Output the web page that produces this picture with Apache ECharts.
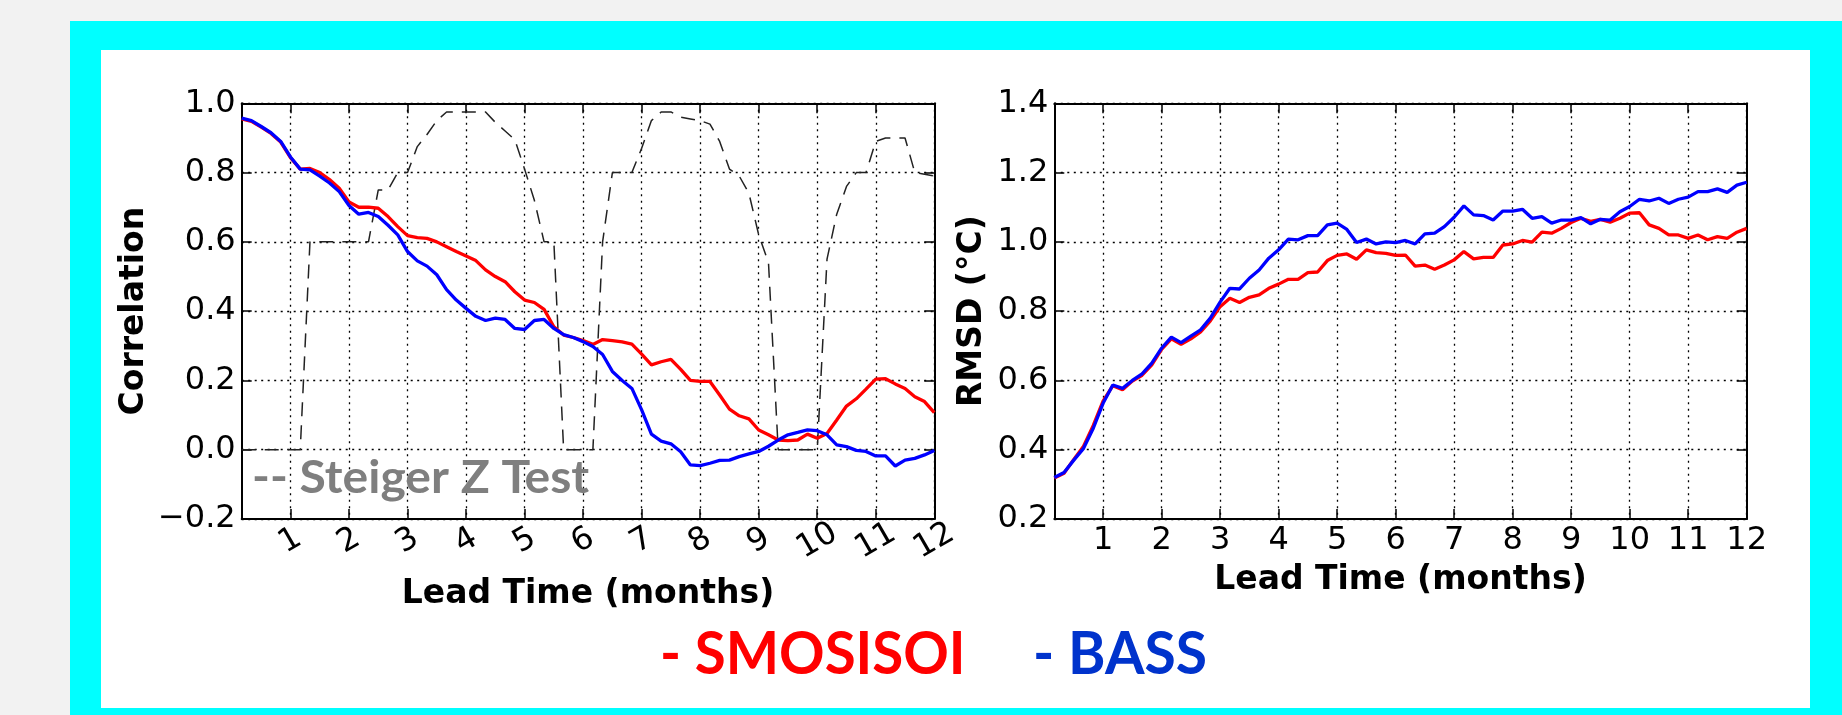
<!DOCTYPE html>
<html><head><meta charset="utf-8">
<script src="https://cdn.jsdelivr.net/npm/echarts@6/dist/echarts.min.js"></script>
<style>
html,body{margin:0;padding:0;background:#f2f2f2;width:1842px;height:715px;overflow:hidden;}
#cyan{position:absolute;left:70px;top:21px;width:1772px;height:694px;background:#00ffff;}
#white{position:absolute;left:101px;top:50px;width:1709px;height:658px;background:#ffffff;}
#chart{position:absolute;left:0;top:0;width:1842px;height:715px;}
</style></head><body>
<div id="cyan"></div><div id="white"></div><div id="chart"></div>
<script>
// ---- data ----
const leadTime = [0.1667,0.333,0.5,0.667,0.833,1,1.167,1.333,1.5,1.667,1.833,2,2.167,2.333,2.5,2.667,2.833,3,3.167,3.333,3.5,3.667,3.833,4,4.167,4.333,4.5,4.667,4.833,5,5.167,5.333,5.5,5.667,5.833,6,6.167,6.333,6.5,6.667,6.833,7,7.167,7.333,7.5,7.667,7.833,8,8.167,8.333,8.5,8.667,8.833,9,9.167,9.333,9.5,9.667,9.833,10,10.167,10.333,10.5,10.667,10.833,11,11.167,11.333,11.5,11.667,11.833,12];
const monthTicks = [1,2,3,4,5,6,7,8,9,10,11,12];
const corrTicks = [-0.2,0,0.2,0.4,0.6,0.8,1.0];
const rmsdTicks = [0.2,0.4,0.6,0.8,1.0,1.2,1.4];

const corrSMOSISOI = [0.955,0.948,0.931,0.913,0.888,0.843,0.81,0.812,0.8,0.78,
0.755,0.715,0.70,0.70,0.697,0.673,0.644,0.618,0.612,0.61,
0.60,0.586,0.572,0.559,0.546,0.519,0.50,0.485,0.456,0.432,
0.425,0.405,0.355,0.331,0.324,0.315,0.304,0.318,0.315,0.311,
0.305,0.276,0.245,0.254,0.261,0.232,0.20,0.197,0.197,0.158,
0.117,0.098,0.089,0.057,0.043,0.028,0.026,0.028,0.045,0.033,
0.047,0.086,0.126,0.147,0.175,0.204,0.205,0.19,0.177,0.153,0.139,0.107];

const corrBASS = [0.957,0.95,0.933,0.915,0.89,0.845,0.81,0.808,0.79,0.77,
0.745,0.705,0.68,0.685,0.673,0.648,0.62,0.572,0.545,0.53,
0.505,0.462,0.432,0.408,0.385,0.373,0.38,0.376,0.35,0.347,
0.373,0.376,0.35,0.332,0.324,0.312,0.298,0.275,0.226,0.2,
0.177,0.115,0.045,0.025,0.017,-0.006,-0.044,-0.046,-0.039,-0.031,
-0.03,-0.02,-0.012,-0.005,0.01,0.028,0.043,0.05,0.057,0.055,
0.043,0.014,0.009,-0.002,-0.005,-0.018,-0.018,-0.047,-0.03,-0.025,-0.015,-0.002];

const steigerZ = [0,0,0,0,0,0,0,0.6,0.6,0.6,
0.6,0.6,0.6,0.6,0.75,0.75,0.8,0.8,0.875,0.91,
0.95,0.975,0.975,0.975,0.975,0.975,0.945,0.92,0.895,0.81,
0.72,0.6,0.6,0,0,0,0,0.6,0.8,0.8,
0.8,0.87,0.95,0.975,0.975,0.96,0.955,0.95,0.94,0.89,
0.81,0.79,0.74,0.62,0.54,0,0,0,0,0,
0.55,0.68,0.76,0.8,0.8,0.89,0.9,0.9,0.9,0.8,0.795,0.79];

const rmsdSMOSISOI = [0.318,0.332,0.372,0.41,0.47,0.54,0.585,0.573,0.598,0.615,
0.645,0.69,0.72,0.704,0.72,0.74,0.772,0.813,0.837,0.825,
0.84,0.847,0.866,0.878,0.892,0.892,0.911,0.913,0.946,0.961,
0.965,0.95,0.977,0.969,0.967,0.961,0.962,0.93,0.933,0.921,
0.933,0.948,0.972,0.951,0.955,0.955,0.991,0.994,1.004,0.999,
1.028,1.025,1.039,1.056,1.068,1.059,1.065,1.057,1.068,1.083,
1.084,1.049,1.039,1.02,1.02,1.01,1.02,1.006,1.015,1.01,1.028,1.039];

const rmsdBASS = [0.32,0.334,0.37,0.404,0.462,0.534,0.587,0.577,0.6,0.619,
0.65,0.693,0.725,0.709,0.728,0.746,0.78,0.826,0.866,0.864,
0.895,0.919,0.953,0.977,1.008,1.006,1.018,1.018,1.049,1.054,
1.036,0.998,1.008,0.994,1.0,0.998,1.004,0.994,1.023,1.025,
1.044,1.071,1.104,1.078,1.076,1.063,1.089,1.089,1.094,1.068,
1.073,1.054,1.063,1.063,1.07,1.052,1.065,1.063,1.087,1.102,
1.123,1.118,1.126,1.111,1.123,1.129,1.145,1.145,1.153,1.143,1.164,1.172];

// ---- chart ----
const FONT = 'DejaVu Sans';
const pairs = (xs, ys) => xs.map((x, k) => [x, ys[k]]);
const fmt = v => (v < -1e-9 ? '\u2212' : '') + Math.abs(v).toFixed(1);
const frame = {onZero: false, lineStyle: {color: '#000', width: 2}};
const tickStyle = {color: '#000', width: 1.5};
const gridLine = {show: true, lineStyle: {color: '#000', width: 1.3, type: [2, 4.5]}};
const nameStyle = {fontFamily: FONT, fontWeight: 'bold', fontSize: 33, color: '#000', verticalAlign: 'middle'};

function bottomX(gi, rotate, gap) {
  return {type: 'value', gridIndex: gi, position: 'bottom', min: leadTime[0], max: 12,
    axisLine: frame,
    axisTick: {inside: true, length: 10, customValues: monthTicks, lineStyle: tickStyle},
    axisLabel: {customValues: monthTicks, rotate: rotate, align: 'center', verticalAlign: 'middle', margin: 22,
      color: '#000', fontFamily: FONT, fontSize: 32},
    splitLine: gridLine,
    name: 'Lead Time (months)', nameLocation: 'middle', nameGap: gap, nameTextStyle: nameStyle};
}
function topX(gi) {
  return {type: 'value', gridIndex: gi, position: 'top', min: leadTime[0], max: 12,
    axisLine: frame,
    axisTick: {inside: true, length: 10, customValues: monthTicks, lineStyle: tickStyle},
    axisLabel: {show: false}, splitLine: {show: false}};
}
function leftY(gi, ticks, name, gap) {
  return {type: 'value', gridIndex: gi, position: 'left', min: ticks[0], max: ticks[ticks.length - 1],
    axisLine: frame,
    axisTick: {inside: true, length: 10, customValues: ticks, lineStyle: tickStyle},
    axisLabel: {customValues: ticks, formatter: fmt, margin: 6, color: '#000', fontFamily: FONT, fontSize: 32},
    splitLine: gridLine,
    name: name, nameLocation: 'middle', nameRotate: 90, nameGap: gap, nameTextStyle: nameStyle};
}
function rightY(gi, ticks) {
  return {type: 'value', gridIndex: gi, position: 'right', min: ticks[0], max: ticks[ticks.length - 1],
    axisLine: frame,
    axisTick: {inside: true, length: 10, customValues: ticks, lineStyle: tickStyle},
    axisLabel: {show: false}, splitLine: {show: false}};
}
function line(xi, yi, ys, color, width, type, z) {
  return {type: 'line', xAxisIndex: xi, yAxisIndex: yi, data: pairs(leadTime, ys), showSymbol: false,
    silent: true, z: z, lineStyle: {color: color, width: width, type: type}};
}

const chart = echarts.init(document.getElementById('chart'), null, {renderer: 'canvas'});
chart.setOption({
  animation: false,
  backgroundColor: 'transparent',
  grid: [
    {left: 241.7, top: 103.3, width: 692.6, height: 415.7},
    {left: 1054.3, top: 103.3, width: 692.4, height: 415.7}
  ],
  xAxis: [bottomX(0, 30, 75), topX(0), bottomX(1, 0, 61), topX(1)],
  yAxis: [leftY(0, corrTicks, 'Correlation', 107), rightY(0, corrTicks),
          leftY(1, rmsdTicks, 'RMSD (\u00b0C)', 81.5), rightY(1, rmsdTicks)],
  series: [
    line(0, 0, steigerZ, '#222222', 1.5, [14, 9], 2),
    line(0, 0, corrSMOSISOI, '#ff0000', 3.3, 'solid', 3),
    line(0, 0, corrBASS, '#0000ff', 3.3, 'solid', 4),
    line(2, 2, rmsdSMOSISOI, '#ff0000', 3.3, 'solid', 3),
    line(2, 2, rmsdBASS, '#0000ff', 3.3, 'solid', 4)
  ],
  graphic: [
    {type: 'text', x: 252, y: 478.5, scaleX: 1.045, z: 10,
      style: {text: '-- Steiger Z Test', fill: '#7f7f7f', font: 'bold 46px Lato', align: 'left', verticalAlign: 'middle'}},
    {type: 'text', x: 660, y: 654.5, scaleX: 0.99, scaleY: 1.04, z: 10,
      style: {text: '- SMOSISOI', fill: '#ff0000', font: 'bold 57px Lato', align: 'left', verticalAlign: 'middle'}},
    {type: 'text', x: 1033, y: 654.5, scaleX: 1.0, scaleY: 1.04, z: 10,
      style: {text: '- BASS', fill: '#0033cc', font: 'bold 57px Lato', align: 'left', verticalAlign: 'middle'}}
  ]
});
</script></body></html>
